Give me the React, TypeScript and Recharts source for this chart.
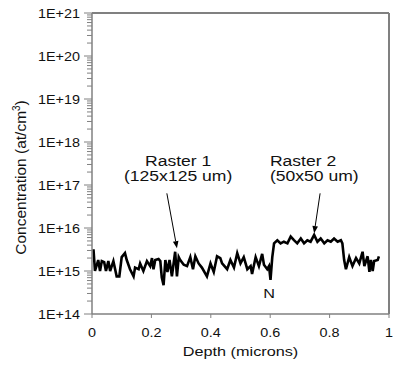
import { LineChart, Line, XAxis, YAxis, ReferenceLine, ReferenceDot } from "recharts";

// depth (microns) / concentration (at/cm3)
const depth = [
  0.005, 0.010, 0.021, 0.027, 0.033, 0.041, 0.047, 0.055, 0.061, 0.072,
  0.083, 0.092, 0.100, 0.111, 0.117, 0.128, 0.140, 0.145, 0.157, 0.162,
  0.173, 0.185, 0.196, 0.202, 0.207, 0.213, 0.224, 0.230, 0.235, 0.241,
  0.247, 0.254, 0.261, 0.269, 0.280, 0.286, 0.292, 0.297, 0.309, 0.320,
  0.331, 0.340, 0.348, 0.359, 0.370, 0.387, 0.399, 0.410, 0.421, 0.432,
  0.438, 0.455, 0.466, 0.478, 0.489, 0.500, 0.511, 0.523, 0.534, 0.539,
  0.551, 0.562, 0.573, 0.579, 0.590, 0.596, 0.601, 0.607, 0.613, 0.624,
  0.635, 0.646, 0.658, 0.669, 0.680, 0.691, 0.703, 0.714, 0.725, 0.736,
  0.748, 0.759, 0.770, 0.782, 0.793, 0.804, 0.815, 0.827, 0.838, 0.843,
  0.849, 0.855, 0.866, 0.877, 0.889, 0.900, 0.911, 0.917, 0.928, 0.934,
  0.939, 0.945, 0.950, 0.962, 0.966,
];
const conc = [
  3.2e15, 1.0e15, 1.8e15, 1.0e15, 1.7e15, 1.6e15, 1.0e15, 1.7e15, 1.0e15, 1.7e15,
  0.75e15, 0.75e15, 2.1e15, 2.6e15, 1.8e15, 1.1e15, 0.75e15, 1.2e15, 1.1e15, 1.5e15,
  1.0e15, 1.7e15, 1.3e15, 2.0e15, 1.1e15, 1.8e15, 1.9e15, 1.7e15, 0.7e15, 0.47e15,
  1.8e15, 0.95e15, 1.8e15, 0.75e15, 2.8e15, 0.75e15, 2.1e15, 1.8e15, 1.4e15, 1.3e15,
  2.1e15, 1.1e15, 2.2e15, 1.5e15, 1.2e15, 0.75e15, 1.5e15, 0.95e15, 2.2e15, 2.0e15,
  1.5e15, 1.1e15, 1.8e15, 1.2e15, 2.6e15, 1.5e15, 2.1e15, 1.1e15, 1.3e15, 0.85e15,
  2.1e15, 1.3e15, 2.5e15, 1.4e15, 1.1e15, 1.3e15, 0.62e15, 2.1e15, 4.4e15, 5.2e15,
  4.4e15, 4.8e15, 4.4e15, 6.3e15, 5.2e15, 4.4e15, 5.7e15, 4.4e15, 5.2e15, 4.8e15,
  6.9e15, 4.8e15, 5.7e15, 4.4e15, 5.2e15, 4.8e15, 5.7e15, 4.8e15, 5.2e15, 4.4e15,
  1.8e15, 1.1e15, 2.1e15, 1.3e15, 2.0e15, 1.5e15, 2.8e15, 1.3e15, 2.2e15, 0.95e15,
  1.8e15, 1.0e15, 1.7e15, 1.8e15, 2.2e15,
];

const xTicks = [0, 0.2, 0.4, 0.6, 0.8, 1];
const decades = [1e14, 1e15, 1e16, 1e17, 1e18, 1e19, 1e20, 1e21];
const minorSteps = [2, 3, 4, 5, 6, 7, 8, 9];

const data = depth.map((d, i) => ({ depth: d, conc: conc[i] }));
const yTicks = decades.flatMap((d) => (d < 1e21 ? [d, ...minorSteps.map((m) => m * d)] : [d]));

const AXIS = "#808080";
const FONT = "'Liberation Sans', Arial, sans-serif";

function YTick(props: any) {
  const { x, y, payload } = props;
  const v = payload.value;
  const exp = Math.round(Math.log10(v));
  const major = Math.abs(v - Math.pow(10, exp)) < v * 1e-6;
  const ax = x + 12;
  return (
    <g>
      <line x1={ax} x2={ax - (major ? 8 : 5)} y1={y} y2={y} stroke={AXIS} />
      {major && (
        <text transform={`translate(${x},${y + 4.5}) scale(1.2,1)`} textAnchor="end" fontSize={12} fontFamily={FONT} fill="#111">
          {`1E+${exp}`}
        </text>
      )}
    </g>
  );
}

function XTick(props: any) {
  const { x, y, payload } = props;
  return (
    <text transform={`translate(${x},${y + 16.5}) scale(1.2,1)`} textAnchor="middle" fontSize={12} fontFamily={FONT} fill="#111">
      {String(payload.value)}
    </text>
  );
}

function Arrow(props: any) {
  const { x1, y1, x2, y2 } = props;
  const a = Math.atan2(y2 - y1, x2 - x1);
  const L = 7, W = 2.8;
  const bx = x2 - L * Math.cos(a), by = y2 - L * Math.sin(a);
  const p1 = `${bx + W * Math.sin(a)},${by - W * Math.cos(a)}`;
  const p2 = `${bx - W * Math.sin(a)},${by + W * Math.cos(a)}`;
  return (
    <g>
      <line x1={x1} y1={y1} x2={bx} y2={by} stroke="#000" strokeWidth={1} />
      <polygon points={`${x2},${y2} ${p1} ${p2}`} fill="#000" />
    </g>
  );
}

const note = (lines: string[], anchor: "middle" | "start", fs: number, sx: number) => (props: any) => {
  const { cx, cy } = props;
  return (
    <g>
      {lines.map((t, i) => (
        <text key={i} transform={`translate(${cx},${cy + i * 15.5}) scale(${sx},1)`} textAnchor={anchor} fontSize={fs} fontFamily={FONT} fill="#111">
          {t}
        </text>
      ))}
    </g>
  );
};

export default function App() {
  return (
    <div style={{ position: "absolute", left: 0, top: 0, background: "#fff" }}>
      <LineChart width={400} height={369} data={data} margin={{ top: 13, right: 11, bottom: 0, left: 0 }}>
        <XAxis
          dataKey="depth"
          type="number"
          domain={[0, 1]}
          ticks={xTicks}
          interval={0}
          height={55}
          tickSize={4}
          tickMargin={2}
          axisLine={{ stroke: AXIS, strokeWidth: 1.5 }}
          tickLine={{ stroke: AXIS }}
          tick={<XTick />}
          label={(p: any) => {
            const vb = p.viewBox;
            return (
              <text transform={`translate(${vb.x + vb.width / 2},${vb.y + 42}) scale(1.3,1)`} textAnchor="middle" fontSize={12.5} fontFamily={FONT} fill="#111">
                Depth (microns)
              </text>
            );
          }}
        />
        <YAxis
          type="number"
          scale="log"
          domain={[1e14, 1e21]}
          allowDataOverflow
          ticks={yTicks}
          interval={0}
          width={92}
          tickSize={8}
          tickMargin={4}
          tickLine={false}
          axisLine={{ stroke: AXIS, strokeWidth: 1.5 }}
          tick={<YTick />}
          label={(p: any) => {
            const vb = p.viewBox;
            const cy = vb.y + vb.height / 2 + 14;
            return (
              <text transform={`translate(25.5,${cy}) rotate(-90)`} textAnchor="middle" fontSize={15.5} fontFamily={FONT} fill="#111">
                Concentration (at/cm<tspan dy={-6} fontSize={10}>3</tspan><tspan dy={6}>)</tspan>
              </text>
            );
          }}
        />
        <ReferenceLine y={1e21} stroke={AXIS} strokeWidth={2} />
        <ReferenceLine x={1} stroke={AXIS} strokeWidth={2} />
        <Line dataKey="conc" type="linear" stroke="#000" strokeWidth={2.6} dot={false} isAnimationActive={false} />
        <ReferenceLine segment={[{ x: 0.252, y: 6.4e16 }, { x: 0.286, y: 3.4e15 }]} shape={Arrow} />
        <ReferenceLine segment={[{ x: 0.768, y: 6.4e16 }, { x: 0.748, y: 7.6e15 }]} shape={Arrow} />
        <ReferenceDot x={0.29} y={2.77e17} r={1} shape={note(["Raster 1", "(125x125 um)"], "middle", 15, 1.17)} />
        <ReferenceDot x={0.599} y={2.77e17} r={1} shape={note(["Raster 2", "(50x50 um)"], "start", 15, 1.17)} />
        <ReferenceDot x={0.596} y={2.3e14} r={1} shape={note(["N"], "middle", 12.5, 1.3)} />
      </LineChart>
    </div>
  );
}
